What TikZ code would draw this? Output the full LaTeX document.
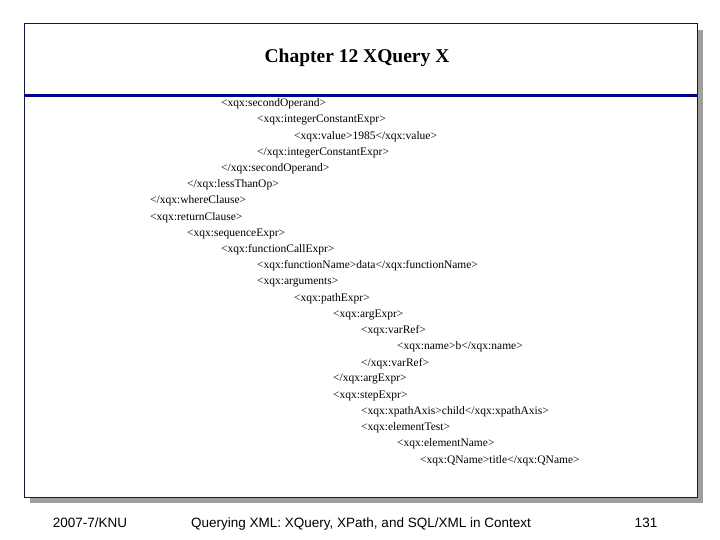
\documentclass[tikz,border=0pt]{standalone}
\usepackage{fontspec}
\setmainfont{Liberation Serif}
\newfontfamily\footfont{Liberation Sans}
\definecolor{framec}{RGB}{20,20,70}
\definecolor{barc}{RGB}{0,0,140}
\begin{document}
\begin{tikzpicture}[x=1pt,y=-1pt,
  code/.style={anchor=west,inner sep=0pt,font=\fontsize{11.5}{12}\selectfont},
  foot/.style={anchor=base,inner sep=0pt,font=\footfont\fontsize{13.5}{15}\selectfont}]
\useasboundingbox (0,0) rectangle (720,540);
\fill[gray!75] (30,30) rectangle (703,503);
\draw[fill=white,draw=framec,line width=1pt] (24,24) rectangle (697,497);
\fill[barc] (24,94.5) rectangle (697,97.5);
\node[inner sep=0pt,font=\bfseries\fontsize{19.5}{22}\selectfont] (title) at (357,58) {Chapter 12 XQuery X};
\def\L#1#2#3{\node[code] (l#1) at (#2,{104+(#1)*16.2}) {#3};}
\L{0}{221}{<xqx:secondOperand>}
\L{1}{257}{<xqx:integerConstantExpr>}
\L{2}{294}{<xqx:value>1985</xqx:value>}
\L{3}{257}{</xqx:integerConstantExpr>}
\L{4}{221}{</xqx:secondOperand>}
\L{5}{187}{</xqx:lessThanOp>}
\L{6}{150}{</xqx:whereClause>}
\L{7}{150}{<xqx:returnClause>}
\L{8}{187}{<xqx:sequenceExpr>}
\L{9}{221}{<xqx:functionCallExpr>}
\L{10}{257}{<xqx:functionName>data</xqx:functionName>}
\L{11}{257}{<xqx:arguments>}
\L{12}{294}{<xqx:pathExpr>}
\L{13}{333}{<xqx:argExpr>}
\L{14}{361}{<xqx:varRef>}
\L{15}{397}{<xqx:name>b</xqx:name>}
\L{16}{361}{</xqx:varRef>}
\L{17}{333}{</xqx:argExpr>}
\L{18}{333}{<xqx:stepExpr>}
\L{19}{361}{<xqx:xpathAxis>child</xqx:xpathAxis>}
\L{20}{361}{<xqx:elementTest>}
\L{21}{397}{<xqx:elementName>}
\L{22}{420}{<xqx:QName>title</xqx:QName>}
\node[foot] (date) at (90,527) {2007-7/KNU};
\node[foot] (ftitle) at (361,527) {Querying XML: XQuery, XPath, and SQL/XML in Context};
\node[foot] (page) at (646,527) {131};
\end{tikzpicture}
\end{document}
